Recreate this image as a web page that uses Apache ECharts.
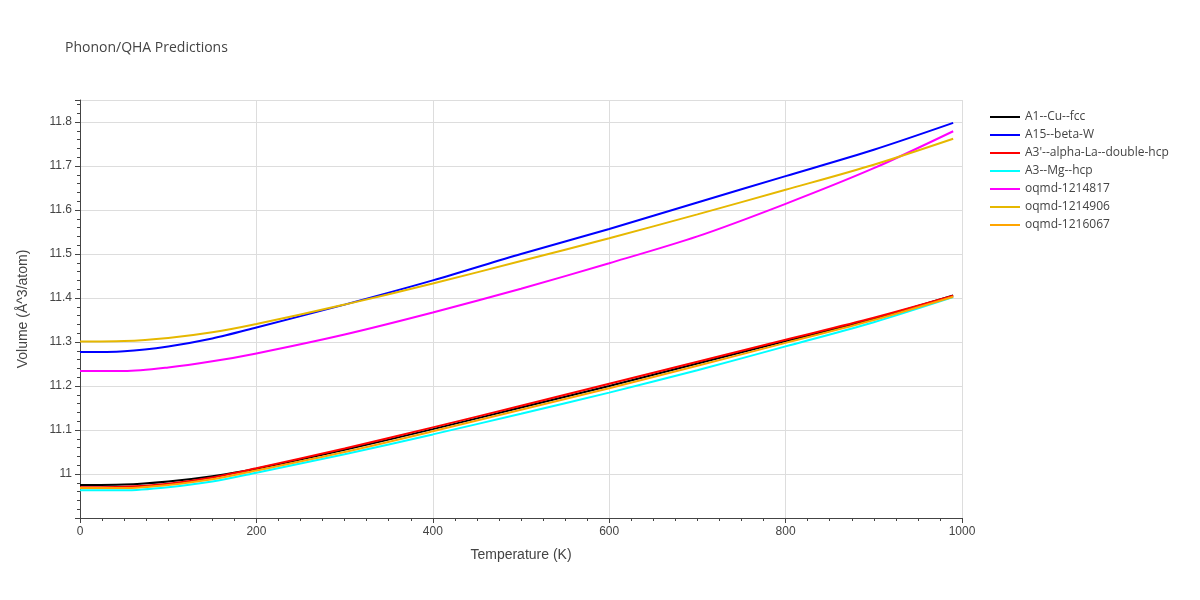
<!DOCTYPE html><html><head><meta charset="utf-8"><script src="https://cdn.jsdelivr.net/npm/echarts@6/dist/echarts.min.js"></script></head><body style="margin:0"><div id="c" style="width:1200px;height:600px"></div><script>
const temps=[0,50,100,150,200,300,400,500,600,700,800,900,990];
const names=["A1--Cu--fcc","A15--beta-W","A3'--alpha-La--double-hcp","A3--Mg--hcp","oqmd-1214817","oqmd-1214906","oqmd-1216067"];
const colors=["#000000","#0000ff","#ff0000","#00ffff","#ff00ff","#e6b800","#ffa500"];
const A1=[10.975,10.976,10.983,10.995,11.012,11.055,11.102,11.151,11.2,11.251,11.302,11.353,11.406];
const A15=[11.277,11.279,11.29,11.308,11.333,11.385,11.44,11.5,11.557,11.617,11.677,11.737,11.798];
const A3p=[10.970,10.971,10.978,10.992,11.013,11.058,11.106,11.155,11.205,11.255,11.305,11.355,11.405];
const A3=[10.963,10.963,10.970,10.983,11.003,11.045,11.090,11.137,11.185,11.236,11.290,11.345,11.402];
const q817=[11.234,11.234,11.242,11.256,11.274,11.317,11.367,11.421,11.479,11.540,11.614,11.695,11.779];
const q906=[11.301,11.302,11.309,11.322,11.341,11.385,11.433,11.484,11.536,11.590,11.646,11.703,11.762];
const q067=[10.968,10.968,10.975,10.988,11.008,11.050,11.097,11.146,11.195,11.246,11.298,11.350,11.403];
const vals=[A1,A15,A3p,A3,q817,q906,q067];
const c=echarts.init(document.getElementById('c'));
c.setOption({animation:false,
title:{text:'Phonon/QHA Predictions',left:60,top:36,textStyle:{fontSize:14,fontWeight:'normal',color:'#444',fontFamily:'Open Sans'}},
legend:{orient:'vertical',left:985,top:106,itemWidth:30,itemHeight:2,itemGap:6,icon:'rect',textStyle:{fontSize:12,color:'#444',fontFamily:'Open Sans'},data:names},
grid:{left:80,right:238,top:100,bottom:82},
xAxis:{type:'value',min:0,max:1000,interval:200,name:'Temperature (K)',nameLocation:'middle',nameGap:30,nameTextStyle:{fontSize:14,color:'#444'},
 axisLine:{show:true,onZero:false,lineStyle:{color:'#444'}},axisTick:{show:true,length:5},minorTick:{show:true,splitNumber:8,length:3},axisLabel:{color:'#444',formatter:v=>String(v)},splitLine:{lineStyle:{color:'#ddd'}}},
yAxis:{type:'value',min:10.9,max:11.85,interval:0.1,name:'Volume (Å^3/atom)',nameLocation:'middle',nameGap:50,nameTextStyle:{fontSize:14,color:'#444'},
 axisLine:{show:true,lineStyle:{color:'#444'}},axisTick:{show:true,length:5},minorTick:{show:true,splitNumber:5,length:3},
 axisLabel:{color:'#444',showMinLabel:false,showMaxLabel:false,formatter:v=>String(+v.toFixed(1))},splitLine:{lineStyle:{color:'#ddd'}}},
series:names.map((n,i)=>({name:n,type:'line',showSymbol:false,smooth:0.3,color:colors[i],lineStyle:{width:2},data:temps.map((t,j)=>[t,vals[i][j]])}))
});
</script></body></html>
